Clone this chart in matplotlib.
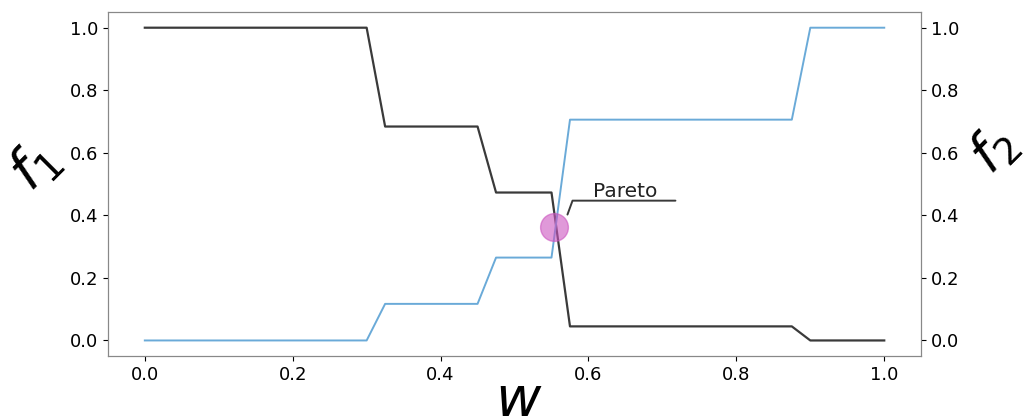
import matplotlib
matplotlib.use("Agg")
import matplotlib.pyplot as plt
import numpy as np

w = np.linspace(0, 1, 41)
# f1 (black) and f2 (blue) values at each w
f1_steps = [(0.300, 1.000), (0.450, 0.684), (0.550, 0.473), (0.875, 0.045), (1.000, 0.000)]
f2_steps = [(0.300, 0.000), (0.450, 0.117), (0.550, 0.265), (0.875, 0.706), (1.000, 1.000)]

def expand(steps):
    vals = []
    for wi in w:
        for edge, v in steps:
            if wi <= edge + 1e-9:
                vals.append(v)
                break
    return vals

f1 = expand(f1_steps)
f2 = expand(f2_steps)

pareto_w, pareto_f = 0.554, 0.364
ticks = [0.0, 0.2, 0.4, 0.6, 0.8, 1.0]

fig = plt.figure(figsize=(10.27, 4.16), dpi=100)
ax = fig.add_axes([0.105, 0.144, 0.792, 0.827])
ax.plot(w, f1, color='#3a3a3a', lw=1.6)
ax.plot(w, f2, color='#6aaad8', lw=1.4)
ax.plot([pareto_w], [pareto_f], 'o', ms=20, color='#cc55c0', alpha=0.6, mec='#cc55c0', zorder=5)

ax.annotate('', xy=(0.5716, 0.4026), xytext=(0.7176, 0.447),
            arrowprops=dict(arrowstyle='-', color='#3a3a3a', lw=1.4,
                            connectionstyle='angle,angleA=0,angleB=70,rad=0',
                            shrinkA=0, shrinkB=0))
ax.text(0.606, 0.458, 'Pareto', fontsize=14.5, color='#222222')

ax.set_xlim(-0.05, 1.05)
ax.set_ylim(-0.05, 1.05)
ax.set_xticks(ticks)
ax.set_yticks(ticks)
ax.tick_params(labelsize=13)
for s in ax.spines.values():
    s.set_color('#888888')

ax2 = ax.twinx()
ax2.set_ylim(-0.05, 1.05)
ax2.set_yticks(ticks)
ax2.tick_params(labelsize=13)
for s in ax2.spines.values():
    s.set_color('#888888')

fig.text(0.034, 0.60, '$f_1$', fontsize=40, rotation=45, ha='center', va='center')
fig.text(0.967, 0.64, '$f_2$', fontsize=38, rotation=45, ha='center', va='center')
fig.text(0.505, -0.03, '$w$', fontsize=40, ha='center', va='bottom')

fig.savefig('out.png', dpi=100)
